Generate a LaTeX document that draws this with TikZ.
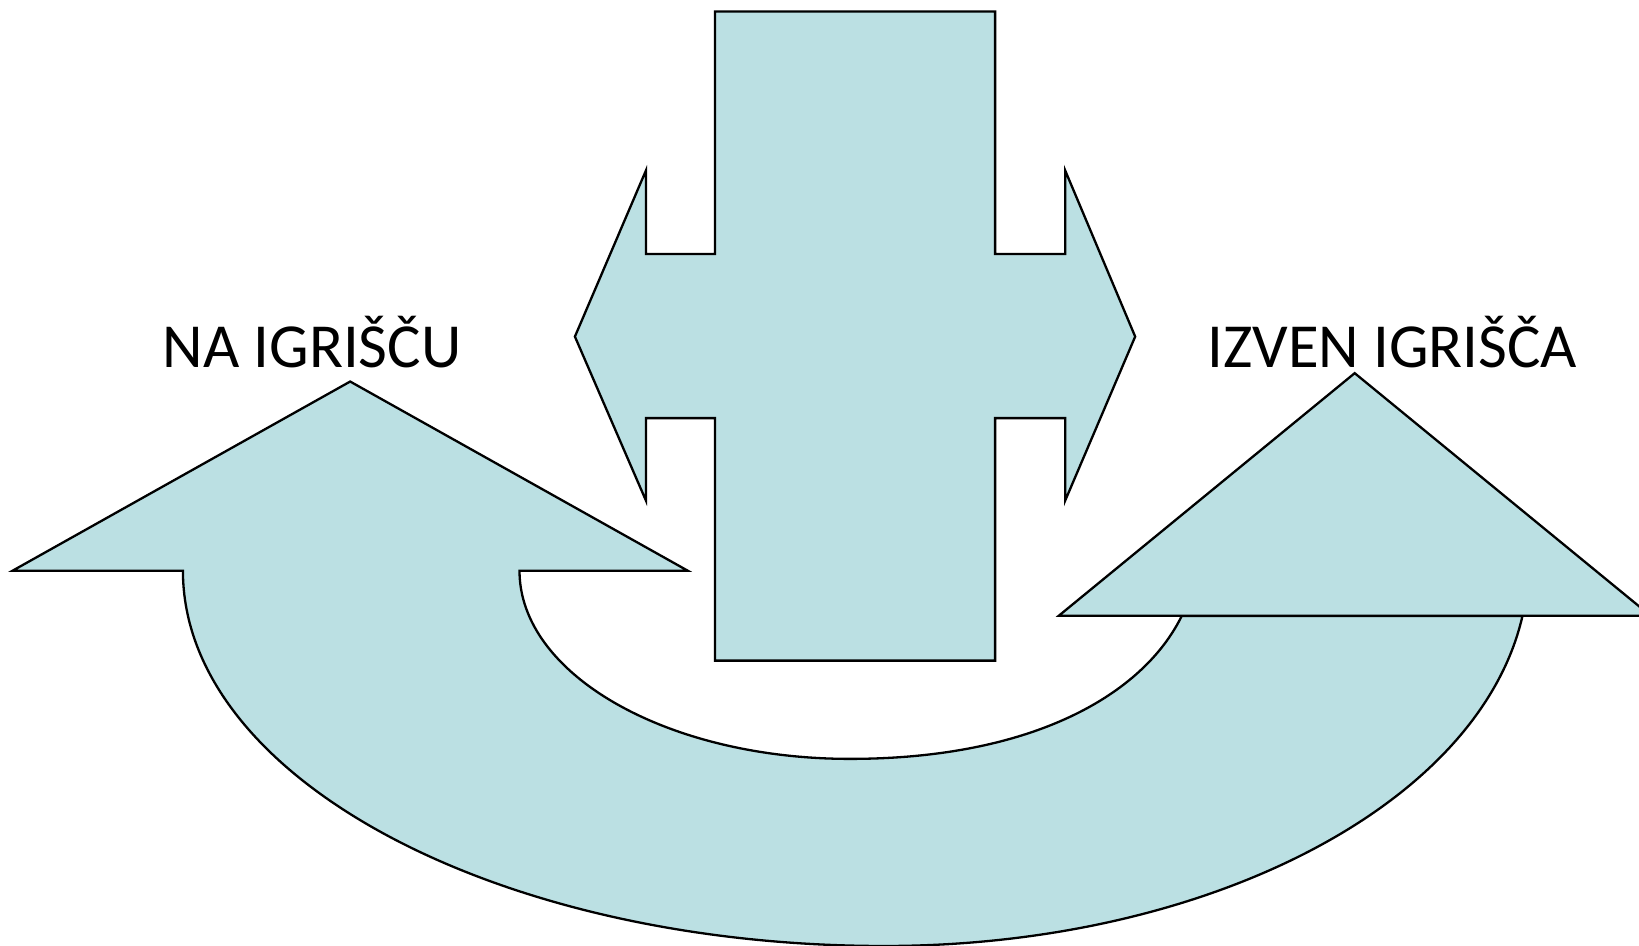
\documentclass[tikz,border=0pt]{standalone}
\usepackage{fontspec}
\setmainfont{Carlito}
\definecolor{shapefill}{RGB}{187,224,227}
\begin{document}
\begin{tikzpicture}[x=0.5pt,y=-0.5pt,
  blueshape/.style={draw=black,fill=shapefill,line width=1.1pt,line join=miter},
  textlabel/.style={font=\fontsize{30}{36}\selectfont,anchor=base,inner sep=0pt}]
\useasboundingbox (0,0) rectangle (1568,905);
% cross-shaped double arrow
\path[blueshape] (684,11) -- (952,11) -- (952,243) -- (1019,243) -- (1019,163)
  -- (1086,322) -- (1019,479) -- (1019,400) -- (952,400) -- (952,632)
  -- (684,632) -- (684,400) -- (618,400) -- (618,479) -- (550,322)
  -- (618,163) -- (618,243) -- (684,243) -- cycle;
% U-shaped arrow with left head
\path[blueshape] (175,546) -- (12,546) -- (335,365) -- (658,546) -- (497,546)
  .. controls (497,645.4) and (638.5,726) .. (813,726)
  .. controls (988,726) and (1093.8,664.3) .. (1130.5,589.3)
  -- (1456.5,589.3)
  .. controls (1415.2,770) and (1154.4,905) .. (846,905)
  .. controls (475.4,905) and (175,744.3) .. (175,546) -- cycle;
% right arrow head
\path[blueshape] (1013,589) -- (1296,357) -- (1579,589) -- cycle;
% labels
\node[textlabel] (na) at (298.5,352) {NA IGRIŠČU};
\node[textlabel] (izven) at (1332,352) {IZVEN IGRIŠČA};
\end{tikzpicture}
\end{document}
